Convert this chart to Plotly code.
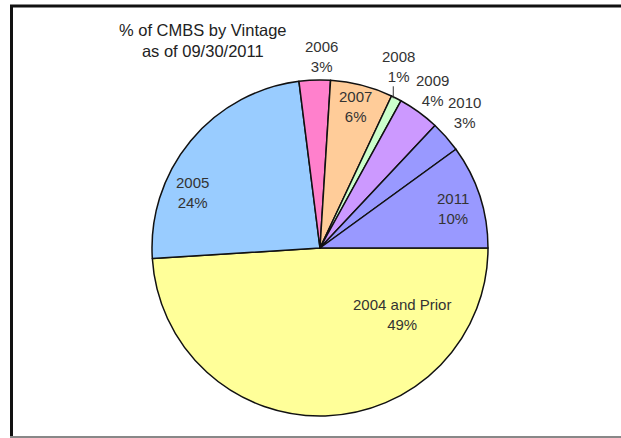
import math
import plotly.graph_objects as go

labels = ["2004 and Prior", "2005", "2006", "2007", "2008", "2009", "2010", "2011"]
values = [49, 24, 3, 6, 1, 4, 3, 10]
colors = ["#FFFF99", "#99CCFF", "#FF80CC", "#FFCC99", "#CCFFCC", "#CC99FF", "#9999FF", "#9999FF"]
title_lines = ["% of CMBS by Vintage", "as of 09/30/2011"]

# label block centres in pixels (layout, Excel "best fit" placement)
label_px = [(402, 314), (192, 193), (321, 57), (355, 106), (398, 66), (432, 90), (464, 113), (453, 209)]

W, H = 621, 438
cx, cy, r = 320, 248, 168
FONT = "Liberation Sans, Arial, sans-serif"

fig = go.Figure(go.Pie(
    labels=labels,
    values=values,
    sort=False,
    direction="clockwise",
    rotation=90,
    marker=dict(colors=colors, line=dict(color="#111111", width=1.5)),
    textinfo="none",
    showlegend=False,
    hoverinfo="label+percent",
    domain=dict(x=[(cx - r) / W, (cx + r) / W], y=[(H - cy - r) / H, (H - cy + r) / H]),
))

total = sum(values)
for lab, v, (px, py) in zip(labels, values, label_px):
    pct = round(100 * v / total)
    fig.add_annotation(
        text=f"{lab}<br>{pct}%", x=px / W, y=(H - py) / H, xref="paper", yref="paper",
        xanchor="center", yanchor="middle", showarrow=False, align="center",
        font=dict(family=FONT, size=15, color="#333333"),
    )

# short leader tick for the 2008 slice
cum = sum(values[:4]) + values[4] / 2
ang = math.radians(90 - 360 * cum / total + 90)  # rotation 90, clockwise
ang = math.radians(-(360 * cum / total))  # from 3 o'clock, clockwise
ex, ey = cx + r * math.cos(ang), cy - r * math.sin(-ang) * -1
ex = cx + r * math.cos(math.radians(360 * cum / total))
ey = cy + r * math.sin(math.radians(360 * cum / total))
fig.add_shape(type="line", xref="paper", yref="paper",
              x0=(ex - 3) / W, x1=(ex - 3) / W, y0=(H - ey) / H, y1=(H - ey + 12) / H,
              line=dict(color="#333333", width=1))

fig.add_annotation(
    text="<br>".join(title_lines), x=203 / W, y=(H - 41) / H, xref="paper", yref="paper",
    xanchor="center", yanchor="middle", showarrow=False,
    font=dict(family=FONT, size=16.5, color="#222222"),
)

# chart frame
fig.add_shape(type="line", xref="paper", yref="paper", x0=10 / W, x1=1.01, y0=(H - 6) / H, y1=(H - 6) / H,
              line=dict(color="#111111", width=3))
fig.add_shape(type="line", xref="paper", yref="paper", x0=11.5 / W, x1=11.5 / W, y0=(H - 437) / H, y1=(H - 5) / H,
              line=dict(color="#111111", width=3))
fig.add_shape(type="line", xref="paper", yref="paper", x0=10 / W, x1=1.01, y0=(H - 437) / H, y1=(H - 437) / H,
              line=dict(color="#888888", width=2))

fig.update_layout(
    width=W, height=H,
    margin=dict(l=0, r=0, t=0, b=0),
    paper_bgcolor="white", plot_bgcolor="white",
)
fig.write_html("out.html")
